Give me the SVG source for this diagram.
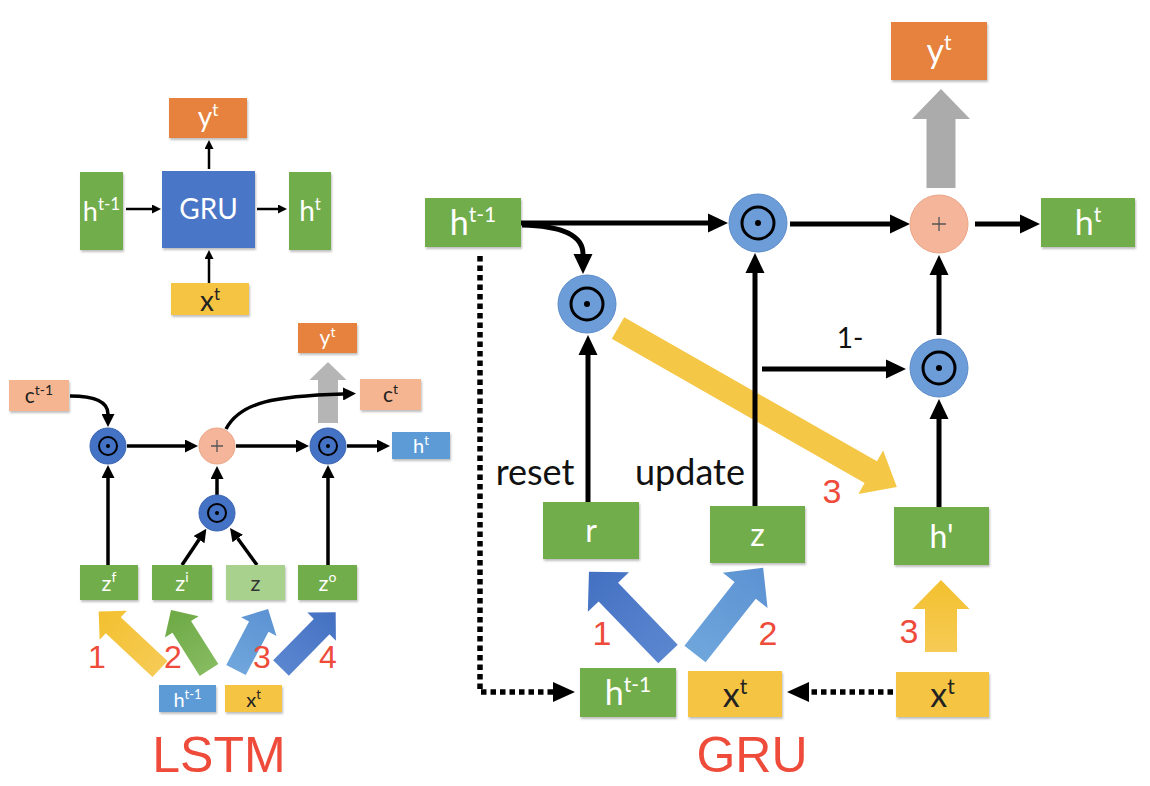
<svg xmlns="http://www.w3.org/2000/svg" width="1150" height="786" viewBox="0 0 1150 786">
<defs>
<style>
.g{fill:#72AD4C}
.gl{fill:#A9D18E}
.or{fill:#E6823C}
.sa{fill:#F4B590}
.ye{fill:#F5C443}
.lb{fill:#5B9BD5}
.blk{fill:#4A76C6}
.t{font-family:Lato,"Liberation Sans",sans-serif;text-anchor:middle}
.w{fill:#FFFFFF}
.d{fill:#222222}
.red{font-family:"Liberation Sans",Arial,sans-serif;fill:#EE4B3B;text-anchor:middle}
.ln{fill:none;stroke:#000;stroke-width:5}
.lm{fill:none;stroke:#000;stroke-width:3.5}
.ls{fill:none;stroke:#000;stroke-width:2.5}
.dot{fill:none;stroke:#000;stroke-width:5.5;stroke-dasharray:5.5 4}
.cg{fill:#6C9DD8;stroke:#5B8BC9;stroke-width:1}
.cl{fill:#4472C4;stroke:#3A64B0;stroke-width:1}
.cp{fill:#F4B59A;stroke:#EBA585;stroke-width:1}
.ring{fill:none;stroke:#000}
.plus{stroke:#555;stroke-width:1.3}
.lbl{font-family:Lato,"Liberation Sans",sans-serif;fill:#111}
</style>
<marker id="ahL" viewBox="0 0 20 20" refX="0" refY="10" markerWidth="20" markerHeight="20" markerUnits="userSpaceOnUse" orient="auto"><path d="M0,0.5 L20,10 L0,19.5 z" fill="#000"/></marker>
<marker id="ahM" viewBox="0 0 13 13" refX="0" refY="6.5" markerWidth="13" markerHeight="13" markerUnits="userSpaceOnUse" orient="auto"><path d="M0,0 L13,6.5 L0,13 z" fill="#000"/></marker>
<marker id="ahS" viewBox="0 0 9 9" refX="0" refY="4.5" markerWidth="9" markerHeight="9" markerUnits="userSpaceOnUse" orient="auto"><path d="M0,0 L9,4.5 L0,9 z" fill="#000"/></marker>
<marker id="ahD" viewBox="0 0 22 20" refX="0" refY="10" markerWidth="22" markerHeight="20" markerUnits="userSpaceOnUse" orient="auto"><path d="M0,0 L22,10 L0,20 z" fill="#000"/></marker>
<filter id="sh" x="-10%" y="-10%" width="125%" height="135%"><feDropShadow dx="1" dy="2" stdDeviation="1.2" flood-color="#000" flood-opacity="0.25"/></filter>
<linearGradient id="gBlueD" x1="0" y1="0" x2="1" y2="0"><stop offset="0" stop-color="#5A86D0"/><stop offset="1" stop-color="#4470C2"/></linearGradient>
<linearGradient id="gBlueL" x1="0" y1="0" x2="1" y2="0"><stop offset="0" stop-color="#6EA6DC"/><stop offset="1" stop-color="#5C92D2"/></linearGradient>
<linearGradient id="gYel" x1="0" y1="0" x2="1" y2="0"><stop offset="0" stop-color="#F6CB55"/><stop offset="1" stop-color="#F3C02F"/></linearGradient>
<linearGradient id="gGrn" x1="0" y1="0" x2="1" y2="0"><stop offset="0" stop-color="#86BB60"/><stop offset="1" stop-color="#6DA945"/></linearGradient>
</defs>
<rect width="1150" height="786" fill="#FFFFFF"/>

<!-- block arrows -->
<g id="block-arrows">
<polygon transform="translate(328,423) rotate(-90)" points="0,-10 43,-10 43,-18.5 61,0 43,18.5 43,10 0,10" fill="#B5B5B5"/>
<polygon transform="translate(941,188) rotate(-90)" points="0,-14.5 69,-14.5 69,-29 99,0 69,29 69,14.5 0,14.5" fill="#ABABAB"/>
<polygon transform="translate(160,669) rotate(-136.9)" points="0,-11 64,-11 64,-20 84,0 64,20 64,11 0,11" fill="url(#gYel)"/>
<polygon transform="translate(209,670) rotate(-122.3)" points="0,-11 51,-11 51,-20 71,0 51,20 51,11 0,11" fill="url(#gGrn)"/>
<polygon transform="translate(236,670) rotate(-62.3)" points="0,-11 49,-11 49,-20 69,0 49,20 49,11 0,11" fill="url(#gBlueL)"/>
<polygon transform="translate(281,668) rotate(-45.5)" points="0,-11 58,-11 58,-20 78,0 58,20 58,11 0,11" fill="url(#gBlueD)"/>
<polygon transform="translate(668,654) rotate(-133.9)" points="0,-13.5 86,-13.5 86,-28.5 114,0 86,28.5 86,13.5 0,13.5" fill="url(#gBlueD)"/>
<polygon transform="translate(695,654) rotate(-51.7)" points="0,-13.5 81,-13.5 81,-28.5 110,0 81,28.5 81,13.5 0,13.5" fill="url(#gBlueL)"/>
<polygon transform="translate(618,328) rotate(29.7)" points="0,-12.5 291,-12.5 291,-25 321,0 291,25 291,12.5 0,12.5" fill="#F4C746"/>
<polygon transform="translate(941,652) rotate(-90)" points="0,-16 43,-16 43,-28.5 72,0 43,28.5 43,16 0,16" fill="url(#gYel)"/>
</g>

<!-- connectors -->
<g id="connectors">
<!-- top-left GRU block -->
<path class="ls" d="M126,209 H152" marker-end="url(#ahS)"/>
<path class="ls" d="M257,209 H278" marker-end="url(#ahS)"/>
<path class="ls" d="M209,169 V149" marker-end="url(#ahS)"/>
<path class="ls" d="M209,283 V259" marker-end="url(#ahS)"/>
<!-- LSTM -->
<path class="lm" d="M70,396 C95,396 108,402 108,414" marker-end="url(#ahM)"/>
<path class="lm" d="M127,446 H185" marker-end="url(#ahM)"/>
<path class="lm" d="M236,446 H296" marker-end="url(#ahM)"/>
<path class="lm" d="M347,446 H377" marker-end="url(#ahM)"/>
<path class="lm" d="M108,565 V478" marker-end="url(#ahM)"/>
<path class="lm" d="M182,565 L199.1,539.6" marker-end="url(#ahM)"/>
<path class="lm" d="M257,565 L237.7,538.5" marker-end="url(#ahM)"/>
<path class="lm" d="M217,495 V479" marker-end="url(#ahM)"/>
<path class="lm" d="M328,565 V478" marker-end="url(#ahM)"/>
<path class="lm" d="M226,429 C240,402 275,396 343,394" marker-end="url(#ahM)"/>
<!-- GRU right -->
<path class="ln" d="M521,223 H708" marker-end="url(#ahL)"/>
<path class="ln" d="M522,225 C565,226 583,236 583,254" marker-end="url(#ahL)"/>
<path class="ln" d="M790,224 H890" marker-end="url(#ahL)"/>
<path class="ln" d="M975,224 H1020" marker-end="url(#ahL)"/>
<path class="ln" d="M588,502 V355" marker-end="url(#ahL)"/>
<path class="ln" d="M755,506 V273" marker-end="url(#ahL)"/>
<path class="ln" d="M762,369 H886" marker-end="url(#ahL)"/>
<path class="ln" d="M939,507 V419" marker-end="url(#ahL)"/>
<path class="ln" d="M939,335 V275" marker-end="url(#ahL)"/>
<path class="dot" d="M480,256 V692 H553"/>
<path d="M553,682 L575,692 L553,702 z" fill="#000"/>
<path class="dot" d="M893,692 H809"/>
<path d="M809,682 L787,692 L809,702 z" fill="#000"/>
</g>

<!-- top-left GRU block nodes -->
<g id="tl-yt"><rect x="169" y="98" width="78" height="40" class="or" filter="url(#sh)"/><text x="208" y="127" class="t w" font-size="28">y<tspan dy="-11" font-size="17">t</tspan></text></g>
<g id="tl-gru"><rect x="162" y="171" width="93" height="77" class="blk" filter="url(#sh)"/><text x="208.5" y="219" class="t w" font-size="28">GRU</text></g>
<g id="tl-hprev"><rect x="80" y="172" width="43" height="78" class="g" filter="url(#sh)"/><text x="101.5" y="221" class="t w" font-size="27">h<tspan dy="-11" font-size="17">t-1</tspan></text></g>
<g id="tl-ht"><rect x="289" y="172" width="42" height="78" class="g" filter="url(#sh)"/><text x="310" y="221" class="t w" font-size="28">h<tspan dy="-11" font-size="17">t</tspan></text></g>
<g id="tl-xt"><rect x="171" y="283" width="78" height="32" class="ye" filter="url(#sh)"/><text x="210" y="311" class="t d" font-size="28">x<tspan dy="-11" font-size="17">t</tspan></text></g>

<!-- LSTM nodes -->
<g id="lstm-cprev"><rect x="9" y="380" width="60" height="31" class="sa" filter="url(#sh)"/><text x="39" y="403" class="t d" font-size="21">c<tspan dy="-8" font-size="14">t-1</tspan></text></g>
<g id="lstm-ct"><rect x="360" y="379" width="61" height="31" class="sa" filter="url(#sh)"/><text x="390.5" y="402" class="t d" font-size="21">c<tspan dy="-8" font-size="14">t</tspan></text></g>
<g id="lstm-yt"><rect x="298" y="323" width="59" height="30" class="or" filter="url(#sh)"/><text x="327.5" y="345" class="t w" font-size="21">y<tspan dy="-8" font-size="14">t</tspan></text></g>
<g id="lstm-ht"><rect x="392" y="432" width="58" height="27" class="lb" filter="url(#sh)"/><text x="421" y="453" class="t w" font-size="20">h<tspan dy="-8" font-size="13">t</tspan></text></g>
<g id="lstm-mul-f"><circle cx="108" cy="446" r="18" class="cl"/><circle cx="108" cy="446" r="9" class="ring" stroke-width="2"/><circle cx="108" cy="446" r="2" fill="#000"/></g>
<g id="lstm-add"><circle cx="217" cy="446" r="18" class="cp"/><path class="plus" d="M211,446 H223 M217,440 V452"/></g>
<g id="lstm-mul-o"><circle cx="328" cy="446" r="18" class="cl"/><circle cx="328" cy="446" r="9" class="ring" stroke-width="2"/><circle cx="328" cy="446" r="2" fill="#000"/></g>
<g id="lstm-mul-i"><circle cx="217" cy="513" r="18" class="cl"/><circle cx="217" cy="513" r="9" class="ring" stroke-width="2"/><circle cx="217" cy="513" r="2" fill="#000"/></g>
<g id="lstm-zf"><rect x="80" y="565" width="58" height="35" class="g" filter="url(#sh)"/><text x="109" y="591" class="t w" font-size="22">z<tspan dy="-9" font-size="14">f</tspan></text></g>
<g id="lstm-zi"><rect x="152" y="565" width="60" height="35" class="g" filter="url(#sh)"/><text x="182" y="591" class="t w" font-size="22">z<tspan dy="-9" font-size="14">i</tspan></text></g>
<g id="lstm-z"><rect x="226" y="565" width="59" height="35" class="gl" filter="url(#sh)"/><text x="255.5" y="591" class="t" fill="#333" font-size="22">z</text></g>
<g id="lstm-zo"><rect x="298" y="565" width="59" height="35" class="g" filter="url(#sh)"/><text x="327.5" y="591" class="t w" font-size="22">z<tspan dy="-9" font-size="14">o</tspan></text></g>
<g id="lstm-hprev"><rect x="159" y="685" width="57" height="27" class="lb" filter="url(#sh)"/><text x="187.5" y="707" class="t w" font-size="20">h<tspan dy="-8" font-size="13">t-1</tspan></text></g>
<g id="lstm-xt"><rect x="225" y="685" width="57" height="27" class="ye" filter="url(#sh)"/><text x="253.5" y="707" class="t d" font-size="20">x<tspan dy="-8" font-size="13">t</tspan></text></g>
<g id="lstm-nums">
<text x="97" y="668" class="red" font-size="32">1</text>
<text x="173" y="668" class="red" font-size="32">2</text>
<text x="262" y="668" class="red" font-size="32">3</text>
<text x="328" y="668" class="red" font-size="32">4</text>
</g>

<!-- GRU right nodes -->
<g id="gru-hprev-top"><rect x="425" y="198" width="96" height="49" class="g" filter="url(#sh)"/><text x="473" y="235" class="t w" font-size="34">h<tspan dy="-13" font-size="21">t-1</tspan></text></g>
<g id="gru-mul-r"><circle cx="587" cy="304" r="29" class="cg"/><circle cx="587" cy="304" r="16" class="ring" stroke-width="3"/><circle cx="587" cy="304" r="3" fill="#000"/></g>
<g id="gru-mul-z"><circle cx="758" cy="223" r="29" class="cg"/><circle cx="758" cy="223" r="16" class="ring" stroke-width="3"/><circle cx="758" cy="223" r="3" fill="#000"/></g>
<g id="gru-add"><circle cx="939" cy="224" r="29" class="cp"/><path class="plus" d="M932,224 H946 M939,217 V231"/></g>
<g id="gru-mul-h"><circle cx="939" cy="368" r="29" class="cg"/><circle cx="939" cy="368" r="16" class="ring" stroke-width="3"/><circle cx="939" cy="368" r="3" fill="#000"/></g>
<g id="gru-yt"><rect x="891" y="22" width="96" height="58" class="or" filter="url(#sh)"/><text x="939" y="63" class="t w" font-size="34">y<tspan dy="-13" font-size="21">t</tspan></text></g>
<g id="gru-ht"><rect x="1041" y="198" width="94" height="49" class="g" filter="url(#sh)"/><text x="1088" y="235" class="t w" font-size="34">h<tspan dy="-13" font-size="21">t</tspan></text></g>
<g id="gru-r"><rect x="543" y="502" width="96" height="57" class="g" filter="url(#sh)"/><text x="591" y="542" class="t w" font-size="32">r</text></g>
<g id="gru-z"><rect x="710" y="506" width="95" height="57" class="g" filter="url(#sh)"/><text x="757.5" y="546" class="t w" font-size="32">z</text></g>
<g id="gru-hp"><rect x="894" y="507" width="95" height="58" class="g" filter="url(#sh)"/><text x="941.5" y="548" class="t w" font-size="32">h'</text></g>
<g id="gru-hprev-bot"><rect x="580" y="668" width="96" height="49" class="g" filter="url(#sh)"/><text x="628" y="705" class="t w" font-size="34">h<tspan dy="-13" font-size="21">t-1</tspan></text></g>
<g id="gru-xt-mid"><rect x="688" y="671" width="94" height="46" class="ye" filter="url(#sh)"/><text x="735" y="707" class="t d" font-size="34">x<tspan dy="-13" font-size="21">t</tspan></text></g>
<g id="gru-xt-right"><rect x="896" y="672" width="93" height="45" class="ye" filter="url(#sh)"/><text x="942.5" y="707" class="t d" font-size="34">x<tspan dy="-13" font-size="21">t</tspan></text></g>
<g id="gru-labels">
<text x="535" y="485" class="lbl" font-size="36" text-anchor="middle">reset</text>
<text x="690" y="485" class="lbl" font-size="36" text-anchor="middle">update</text>
<text x="850" y="348" class="lbl" font-size="28" text-anchor="middle">1-</text>
<text x="832" y="503" class="red" font-size="34">3</text>
<text x="602" y="645" class="red" font-size="34">1</text>
<text x="768" y="645" class="red" font-size="34">2</text>
<text x="909" y="643" class="red" font-size="34">3</text>
</g>

<g id="titles">
<text x="219" y="772" class="red" font-size="50">LSTM</text>
<text x="752" y="772" class="red" font-size="50">GRU</text>
</g>
</svg>
